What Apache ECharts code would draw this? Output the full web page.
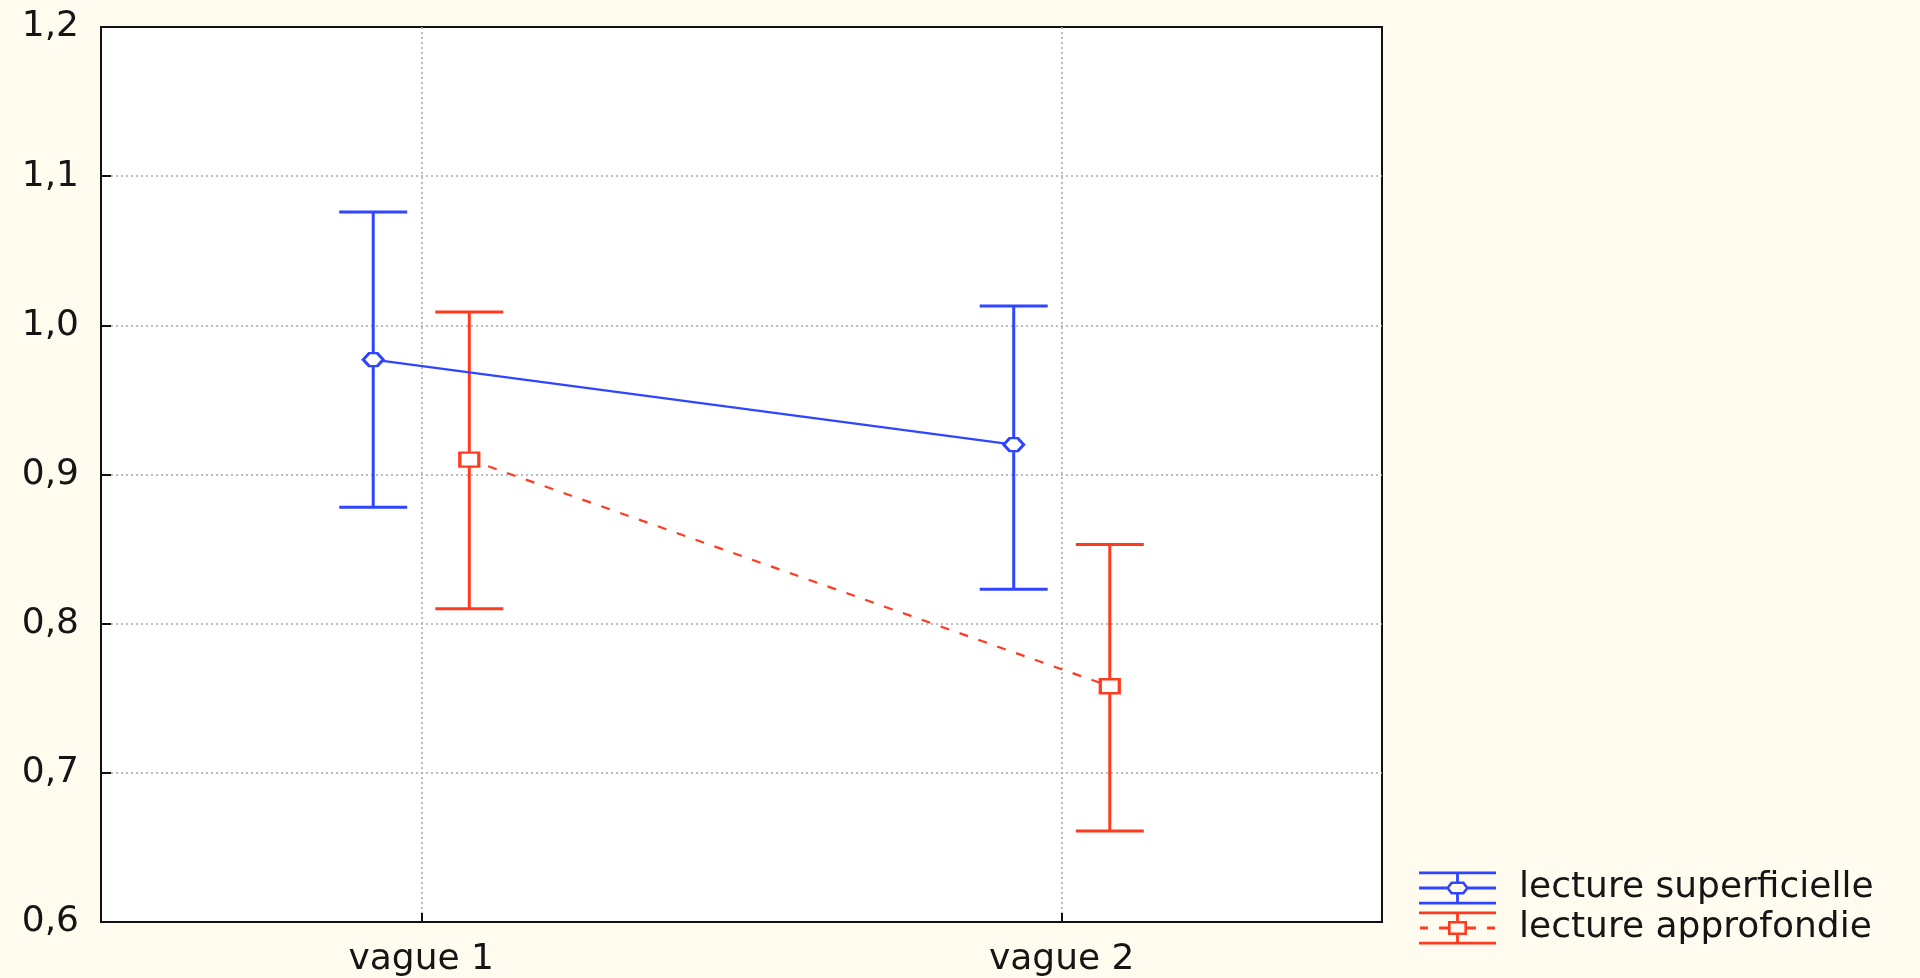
<!DOCTYPE html>
<html>
<head>
<meta charset="utf-8">
<title>lecture superficielle / approfondie</title>
<script src="https://cdn.jsdelivr.net/npm/echarts@6/dist/echarts.min.js"></script>
<style>
  html, body { margin: 0; padding: 0; background: #fffcef; }
  #chart { width: 1920px; height: 978px; }
</style>
</head>
<body>
<div id="chart"></div>
<script>
// Waves (x categories)
const categories = ['vague 1', 'vague 2'];

// Series names
const seriesNames = ['lecture superficielle', 'lecture approfondie'];

// Means and error-bar bounds for each wave
const superficielleMean = [0.977, 0.920];
const superficielleLow  = [0.878, 0.823];
const superficielleHigh = [1.076, 1.013];

const approfondieMean = [0.910, 0.758];
const approfondieLow  = [0.810, 0.661];
const approfondieHigh = [1.009, 0.853];

// Value axis range
const yMin = 0.6, yMax = 1.2, yStep = 0.1;

const BLUE = '#2f45ff';
const RED = '#ff3b1f';
const TEXT = '#151515';
const FONT = 'DejaVu Sans';
const FONT_SIZE = 36;

// Horizontal dodge of the two groups within a category band (band units)
const DODGE = 0.075;

function points(values, shift) {
  return values.map((v, i) => [i + shift, v]);
}
function bars(low, high, shift) {
  return low.map((lo, i) => [i + shift, lo, high[i]]);
}

function errorBar(color) {
  return function (params, api) {
    const x = api.value(0);
    const top = api.coord([x, api.value(2)]);
    const bot = api.coord([x, api.value(1)]);
    const half = 34;
    const style = { stroke: color, lineWidth: 3, fill: null };
    return {
      type: 'group',
      children: [
        { type: 'line', shape: { x1: top[0], y1: top[1], x2: bot[0], y2: bot[1] }, style: style },
        { type: 'line', shape: { x1: top[0] - half, y1: top[1], x2: top[0] + half, y2: top[1] }, style: style },
        { type: 'line', shape: { x1: bot[0] - half, y1: bot[1], x2: bot[0] + half, y2: bot[1] }, style: style }
      ]
    };
  };
}

// Legend glyphs: error bar with hollow marker
const ICON_BLUE = 'path://M0 0H77V2.8H0Z M0 30.2H77V33H0Z M0 15.1H29V17.9H0Z M48 15.1H77V17.9H48Z ' +
  'M37.1 2.8H39.9V10H37.1Z M37.1 23H39.9V30.2H37.1Z ' +
  'M32 10H45L50 16.5L45 23H32L27 16.5Z M33.4 12.6L30.2 16.5L33.4 20.4H43.6L46.8 16.5L43.6 12.6Z';
const ICON_RED = 'path://M0 0H77V2.8H0Z M0 30.2H77V33H0Z ' +
  'M1 15.1H9V17.9H1Z M20 15.1H29V17.9H20Z M48 15.1H57V17.9H48Z M68 15.1H76V17.9H68Z ' +
  'M37.1 2.8H39.9V9.5H37.1Z M37.1 23.5H39.9V30.2H37.1Z ' +
  'M29 9.5H48V23.5H29Z M31.6 12.1V20.9H45.4V12.1Z';

const chart = echarts.init(document.getElementById('chart'), null, { renderer: 'canvas' });

const gridLine = { color: '#a8a8a8', width: 1.5, type: [2, 3] };

chart.setOption({
  backgroundColor: '#fffcef',
  animation: false,
  grid: {
    left: 101, top: 27, right: 538, bottom: 54,
    show: true, backgroundColor: '#ffffff', borderColor: '#111', borderWidth: 2
  },
  legend: {
    orient: 'vertical',
    left: 1419, top: 870,
    itemWidth: 77, itemHeight: 33, itemGap: 4,
    padding: 0,
    selectedMode: false,
    textStyle: { fontFamily: FONT, fontSize: FONT_SIZE, color: TEXT, padding: [0, 0, 0, 18] },
    data: [
      { name: seriesNames[0], icon: ICON_BLUE, itemStyle: { color: BLUE, borderWidth: 0 } },
      { name: seriesNames[1], icon: ICON_RED, itemStyle: { color: RED, borderWidth: 0 } }
    ]
  },
  xAxis: [
    {
      type: 'category',
      data: categories,
      boundaryGap: true,
      axisLine: { show: true, onZero: false, lineStyle: { color: '#111', width: 2 } },
      axisTick: { show: true, inside: true, alignWithLabel: true, length: 9, lineStyle: { color: '#111', width: 2 } },
      axisLabel: { fontFamily: FONT, fontSize: FONT_SIZE, color: TEXT, margin: 20 },
      splitLine: { show: true, alignWithLabel: true, lineStyle: gridLine }
    },
    {
      type: 'value',
      min: -0.5, max: 1.5,
      show: false,
      splitLine: { show: false }
    }
  ],
  yAxis: {
    type: 'value',
    min: yMin, max: yMax, interval: yStep,
    axisLine: { show: true, onZero: false, lineStyle: { color: '#111', width: 2 } },
    axisTick: { show: true, inside: true, length: 10, lineStyle: { color: '#111', width: 2 } },
    axisLabel: {
      fontFamily: FONT, fontSize: FONT_SIZE, color: TEXT, margin: 22,
      formatter: v => v.toFixed(1).replace('.', ',')
    },
    splitLine: { show: true, showMinLine: false, showMaxLine: false, lineStyle: gridLine }
  },
  series: [
    {
      name: seriesNames[0],
      type: 'custom',
      xAxisIndex: 1,
      renderItem: errorBar(BLUE),
      encode: { x: 0, y: [1, 2] },
      itemStyle: { color: BLUE },
      data: bars(superficielleLow, superficielleHigh, -DODGE),
      z: 2
    },
    {
      name: seriesNames[1],
      type: 'custom',
      xAxisIndex: 1,
      renderItem: errorBar(RED),
      encode: { x: 0, y: [1, 2] },
      itemStyle: { color: RED },
      data: bars(approfondieLow, approfondieHigh, DODGE),
      z: 2
    },
    {
      name: seriesNames[0],
      type: 'line',
      xAxisIndex: 1,
      data: points(superficielleMean, -DODGE),
      symbol: 'path://M6 0H14L20 6.5L14 13H6L0 6.5Z',
      symbolSize: [20, 13],
      showSymbol: true,
      lineStyle: { color: BLUE, width: 2.2 },
      itemStyle: { color: '#ffffff', borderColor: BLUE, borderWidth: 2.8 },
      z: 3
    },
    {
      name: seriesNames[1],
      type: 'line',
      xAxisIndex: 1,
      data: points(approfondieMean, DODGE),
      symbol: 'rect',
      symbolSize: [19, 14],
      showSymbol: true,
      lineStyle: { color: RED, width: 2.2, type: [9, 11] },
      itemStyle: { color: '#ffffff', borderColor: RED, borderWidth: 2.8 },
      z: 3
    }
  ]
});
</script>
</body>
</html>
